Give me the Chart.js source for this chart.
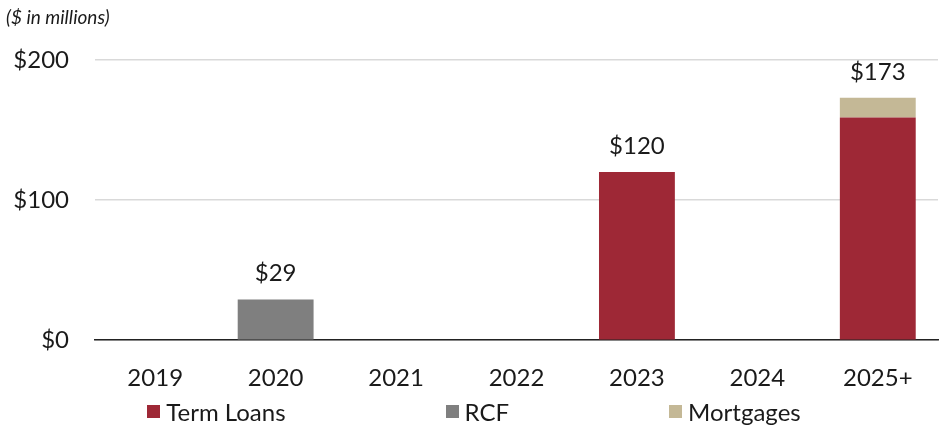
<!DOCTYPE html>
<html>
<head>
<meta charset="utf-8">
<script src="https://cdn.jsdelivr.net/npm/chart.js@4.4.0/dist/chart.umd.min.js"></script>
<style>
  html, body { margin: 0; padding: 0; background: #fff; }
  #wrap { position: relative; width: 948px; height: 428px; font-family: Lato, "Open Sans", sans-serif; color: #1a1a1a; }
  #unit { position: absolute; left: 6px; top: 5px; font-size: 19px; font-style: italic; }
  #legend { position: absolute; left: 0; right: 0; top: 397px; display: flex; justify-content: center; gap: 160px; font-size: 24px; }
  #legend span.item { display: flex; align-items: center; }
  #legend i { display: inline-block; width: 13px; height: 13px; margin-right: 6px; }
</style>
</head>
<body>
<div id="wrap">
  <canvas id="chart" width="948" height="428"></canvas>
  <div id="unit">($ in millions)</div>
  <div id="legend"></div>
</div>
<script>
const years = ["2019", "2020", "2021", "2022", "2023", "2024", "2025+"];
const termLoans = [0, 0, 0, 0, 120, 0, 159];
const rcf = [0, 29, 0, 0, 0, 0, 0];
const mortgages = [0, 0, 0, 0, 0, 0, 14];
const yTicks = [0, 100, 200];

const colors = ["#9e2836", "#7f7f7f", "#c4b896"];
const names = ["Term Loans", "RCF", "Mortgages"];

const totals = years.map((y, i) => termLoans[i] + rcf[i] + mortgages[i]);

// total value printed above each stacked bar
const totalLabels = {
  id: "totalLabels",
  afterDatasetsDraw(chart) {
    const ctx = chart.ctx;
    const meta = chart.getDatasetMeta(0);
    ctx.save();
    ctx.font = "24px Lato, 'Open Sans', sans-serif";
    ctx.fillStyle = "#1a1a1a";
    ctx.textAlign = "center";
    ctx.textBaseline = "middle";
    totals.forEach((t, i) => {
      if (!t) return;
      const x = meta.data[i].x;
      const y = chart.scales.y.getPixelForValue(t);
      ctx.fillText("$" + t, x, y - 26);
    });
    ctx.restore();
  }
};

new Chart(document.getElementById("chart"), {
  type: "bar",
  data: {
    labels: years,
    datasets: [
      { label: names[0], data: termLoans, backgroundColor: colors[0] },
      { label: names[1], data: rcf, backgroundColor: colors[1] },
      { label: names[2], data: mortgages, backgroundColor: colors[2] }
    ]
  },
  options: {
    responsive: false,
    animation: false,
    layout: { padding: { top: 60, right: 10, bottom: 11, left: 0 } },
    datasets: { bar: { categoryPercentage: 1, barPercentage: 0.63 } },
    plugins: { legend: { display: false }, tooltip: { enabled: false } },
    scales: {
      x: {
        stacked: true,
        grid: { display: false, drawTicks: false },
        border: { color: "#222", width: 1.5 },
        ticks: { color: "#1a1a1a", font: { family: "Lato", size: 24 }, padding: 24 }
      },
      y: {
        stacked: true,
        min: 0,
        max: 200,
        afterBuildTicks: s => { s.ticks = yTicks.map(v => ({ value: v })); },
        afterFit: s => { s.width = 95; },
        grid: { color: "#d9d9d9", lineWidth: 1.5, drawTicks: false },
        border: { display: false },
        ticks: { color: "#1a1a1a", font: { family: "Lato", size: 24 }, padding: 26, callback: v => "$" + v }
      }
    }
  },
  plugins: [totalLabels]
});

const legend = document.getElementById("legend");
names.forEach((n, i) => {
  const s = document.createElement("span");
  s.className = "item";
  s.innerHTML = '<i style="background:' + colors[i] + '"></i>' + n;
  legend.appendChild(s);
});
</script>
</body>
</html>
